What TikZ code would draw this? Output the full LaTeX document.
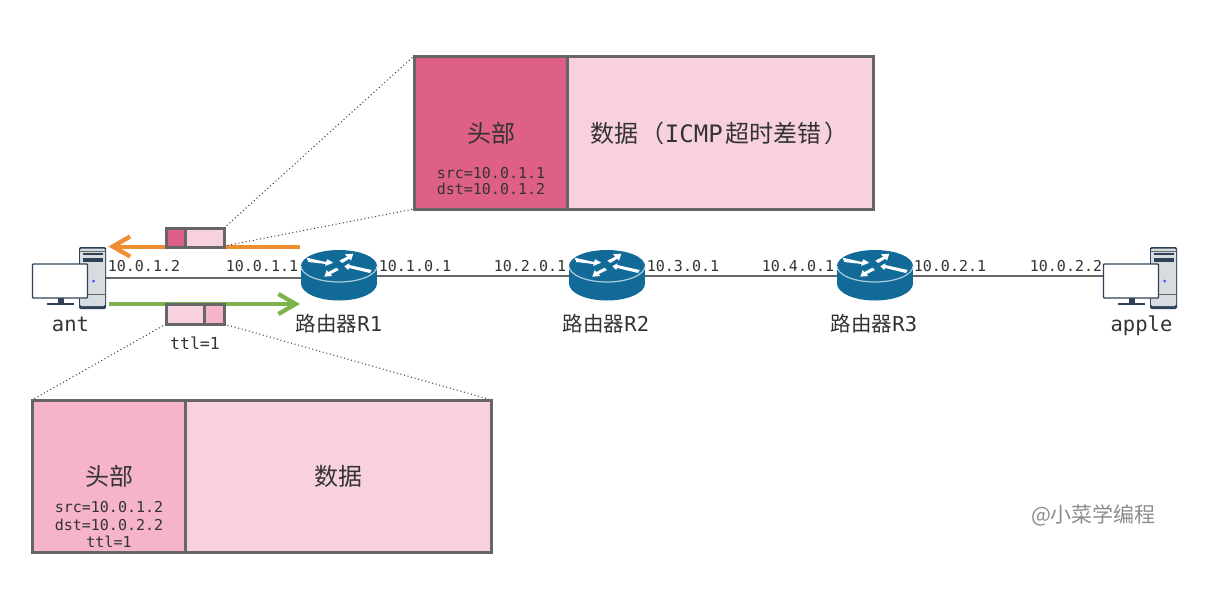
\documentclass[tikz,border=0pt]{standalone}
\usepackage{fontspec}
\setmainfont{DejaVu Sans Mono}
\newfontfamily\cjk{Noto Sans CJK SC}
\usetikzlibrary{arrows.meta}
\definecolor{linegray}{HTML}{666666}
\definecolor{ink}{HTML}{333333}
\definecolor{pinkdark}{HTML}{DE6087}
\definecolor{pinkmid}{HTML}{F5B4C9}
\definecolor{pinklight}{HTML}{F7D2DE}
\definecolor{routerblue}{HTML}{126A98}
\definecolor{arroworange}{HTML}{EE8E2F}
\definecolor{arrowgreen}{HTML}{7DB34F}
\definecolor{pcdark}{HTML}{2F4358}
\definecolor{pcgray}{HTML}{D7DCE1}
\newcommand{\pxfont}[1]{\fontsize{\fpeval{#1*0.75}pt}{\fpeval{#1*0.88}pt}\selectfont}
\tikzset{
  x=0.75pt, y=-0.75pt,
  label text/.style={text=ink, inner sep=0pt, align=center},
  ip/.style={label text, font=\pxfont{15}},
  dev/.style={label text, font=\pxfont{20.5}},
  head/.style={label text, font=\cjk\pxfont{24}},
  cell/.style={draw=linegray, line width=2.25pt},
  link/.style={draw=linegray, line width=1.6pt},
  zoomline/.style={draw=ink, line width=0.75pt, dotted},
  flow/.style={line width=3pt, -{Straight Barb[length=13pt,width=15pt,line width=3.2pt]}},
  rarrow/.style={draw=none, fill=white},
  pics/router/.style={code={
    \fill[routerblue] (0,8.5) ellipse[x radius=38,y radius=17];
    \fill[routerblue] (-38,-9) rectangle (38,8.5);
    \fill[routerblue] (0,-9) ellipse[x radius=38,y radius=16];
    \draw[white!65!routerblue, line width=0.9pt] (-38,-9) arc[start angle=180,end angle=0,x radius=38,y radius=16];
    \fill[rarrow] (-32.3,-17.3) -- (-13,-13) -- (-11.7,-15.7) -- (-5.7,-12.3) -- (-14,-9) -- (-13.3,-11) -- (-30.7,-13) -- cycle;
    \fill[rarrow] (0.3,-14.3) -- (8.3,-18.3) -- (6,-20.7) -- (14.3,-21.3) -- (12,-14.3) -- (10.3,-16.3) -- (3.3,-12) -- cycle;
    \fill[rarrow] (32.7,-5) -- (10.3,-10) -- (10.3,-11.7) -- (5.3,-8.7) -- (9.3,-5) -- (10,-7) -- (31,-2) -- cycle;
    \fill[rarrow] (-14.7,1.7) -- (-12.3,-5) -- (-10.7,-3) -- (-2.3,-7.3) -- (0,-5) -- (-8.3,-1) -- (-6.7,1) -- cycle;
  }},
  pics/computer/.style={code={
    % tower
    \fill[pcdark,rounded corners=1pt] (46.5,-31) rectangle (73.5,31);
    \fill[pcgray,rounded corners=1pt] (47.5,-29.5) rectangle (72.5,28);
    \fill[pcdark] (50,-25) rectangle (70,-23.5);
    \fill[pcdark] (50,-20) rectangle (70,-16.5);
    \draw[linegray,line width=0.5pt] (47.5,-27) -- (72.5,-27);
    \draw[linegray,line width=0.75pt] (47.5,16) -- (72.5,16);
    \fill[blue!70!white] (61,3) circle (1.5);
    % stand
    \fill[pcdark] (25,20) rectangle (31,26);
    \fill[pcdark] (14.5,25) rectangle (41,26.5);
    % screen
    \filldraw[fill=white,draw=pcdark,line width=1.1pt,rounded corners=0.7pt] (0,-14) rectangle (55,20);
  }}
}
\begin{document}
\begin{tikzpicture}
\useasboundingbox[fill=white] (0,0) rectangle (1208,594);

% named anchors for the devices
\coordinate (antport) at (106,278);
\coordinate (r1west) at (301,278);
\coordinate (r1east) at (377,276);
\coordinate (r2west) at (569,276);
\coordinate (r2east) at (645,276);
\coordinate (r3west) at (837,276);
\coordinate (r3east) at (913,276);
\coordinate (applewest) at (1104,276);

% links
\draw[link] (antport) -- (r1west);
\draw[link] (r1east) -- (r2west);
\draw[link] (r2east) -- (r3west);
\draw[link] (r3east) -- (applewest);

% devices
\pic at (32.5,278) {computer};
\pic at (1103.5,278) {computer};
\pic at (339,275) {router};
\pic at (607,275) {router};
\pic at (875,275) {router};

% flows
\coordinate (orangestart) at (300,246.5);
\coordinate (orangeend) at (108.5,246.5);
\coordinate (greenstart) at (109,304);
\coordinate (greenend) at (300,304);
\draw[flow,arroworange] (orangestart) -- (orangeend);
\draw[flow,arrowgreen] (greenstart) -- (greenend);

% dotted zoom lines
\coordinate (a1) at (224,228);
\coordinate (a2) at (414,56);
\coordinate (a3) at (224,246);
\coordinate (a4) at (414,209);
\coordinate (b1) at (166,324);
\coordinate (b2) at (32,400);
\coordinate (b3) at (224,324);
\coordinate (b4) at (492,400);
\draw[zoomline] (a1) -- (a2);
\draw[zoomline] (a3) -- (a4);
\draw[zoomline] (b1) -- (b2);
\draw[zoomline] (b3) -- (b4);

% small packets
\filldraw[cell,fill=pinkdark] (166,228) rectangle (185,247);
\filldraw[cell,fill=pinklight] (185,228) rectangle (224,247);
\filldraw[cell,fill=pinklight] (166,304) rectangle (204.5,324);
\filldraw[cell,fill=pinkmid] (204.5,304) rectangle (224,324);

% large packets
\filldraw[cell,fill=pinkdark] (414,56) rectangle (567,209);
\filldraw[cell,fill=pinklight] (567,56) rectangle (873.5,209);
\filldraw[cell,fill=pinkmid] (32,400) rectangle (185,552);
\filldraw[cell,fill=pinklight] (185,400) rectangle (491.5,552);

% large-packet text
\node[head] (h1) at (491,133) {头部};
\node[ip] (s1) at (491,173) {src=10.0.1.1};
\node[ip] (d1) at (491,189) {dst=10.0.1.2};
\node[head,anchor=west] (t1) at (590,133) {数据\kern2pt（{\fontspec{DejaVu Sans Mono}ICMP}\kern2pt超时差错\kern2pt）};
\node[head] (h2) at (109,476) {头部};
\node[ip] (s2) at (109,507) {src=10.0.1.2};
\node[ip] (d2) at (109,524.5) {dst=10.0.2.2};
\node[ip] (l2) at (109,542) {ttl=1};
\node[head] (t2) at (338,476) {数据};

% addresses
\node[ip] (i1) at (144,266.5) {10.0.1.2};
\node[ip] (i2) at (262,266.5) {10.0.1.1};
\node[ip] (i3) at (415,266.5) {10.1.0.1};
\node[ip] (i4) at (530,266.5) {10.2.0.1};
\node[ip] (i5) at (683,266.5) {10.3.0.1};
\node[ip] (i6) at (798,266.5) {10.4.0.1};
\node[ip] (i7) at (950,266.5) {10.0.2.1};
\node[ip] (i8) at (1066,266.5) {10.0.2.2};

% device names
\node[dev,anchor=base] (ant) at (70.5,331) {ant};
\node[dev,anchor=base] (apple) at (1141.5,331) {apple};
\node[dev] (n1) at (339,324) {{\cjk 路由器}R1};
\node[dev] (n2) at (606,324) {{\cjk 路由器}R2};
\node[dev] (n3) at (874,324) {{\cjk 路由器}R3};
\node[label text,font=\pxfont{16.5}] (ttl) at (195,343) {ttl=1};

% watermark
\node[inner sep=0pt,text=black!45,font=\cjk\pxfont{21}] (wm) at (1093.5,515) {@小菜学编程};
\end{tikzpicture}
\end{document}
